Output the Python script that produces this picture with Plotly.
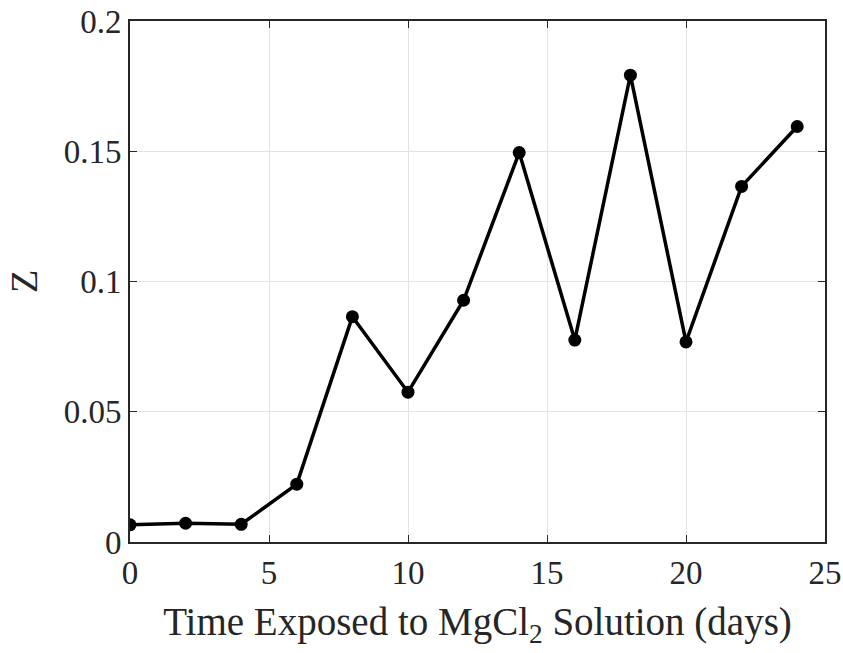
import plotly.graph_objects as go

days = [0, 2, 4, 6, 8, 10, 12, 14, 16, 18, 20, 22, 24]
z_values = [0.0066, 0.0072, 0.0068, 0.0222, 0.0865, 0.0575, 0.0928, 0.1495, 0.0775, 0.1792, 0.0768, 0.1365, 0.1595]
x_ticks = [0, 5, 10, 15, 20, 25]
y_ticks = [0, 0.05, 0.1, 0.15, 0.2]
y_tick_labels = ["0", "0.05", "0.1", "0.15", "0.2"]

fig = go.Figure()
fig.add_trace(go.Scatter(
    x=days, y=z_values, mode="lines+markers",
    line=dict(color="black", width=3.5),
    marker=dict(color="black", size=13),
    showlegend=False,
))

font_family = "Liberation Serif, Times New Roman, serif"
axis_common = dict(
    showline=True, linecolor="#262626", linewidth=2, mirror="ticks",
    ticks="inside", ticklen=7, tickcolor="#262626", tickwidth=1,
    showgrid=True, gridcolor="#e3e3e3", gridwidth=1,
    zeroline=False, automargin=False,
    tickfont=dict(family=font_family, size=33, color="#262626"),
)

fig.update_layout(
    width=843, height=653,
    margin=dict(l=130, r=18, t=21, b=111),
    paper_bgcolor="white", plot_bgcolor="white",
    xaxis=dict(range=[0, 25], tickvals=x_ticks, **axis_common,
               title=dict(text="Time Exposed to MgCl<sub>2</sub> Solution (days)",
                          font=dict(family=font_family, size=39, color="#262626"),
                          standoff=18)),
    yaxis=dict(range=[0, 0.2], tickvals=y_ticks, ticktext=y_tick_labels, **axis_common,
               title=dict(text="Z", font=dict(family=font_family, size=38, color="#262626"),
                          standoff=14)),
)

fig.write_html("out.html")
